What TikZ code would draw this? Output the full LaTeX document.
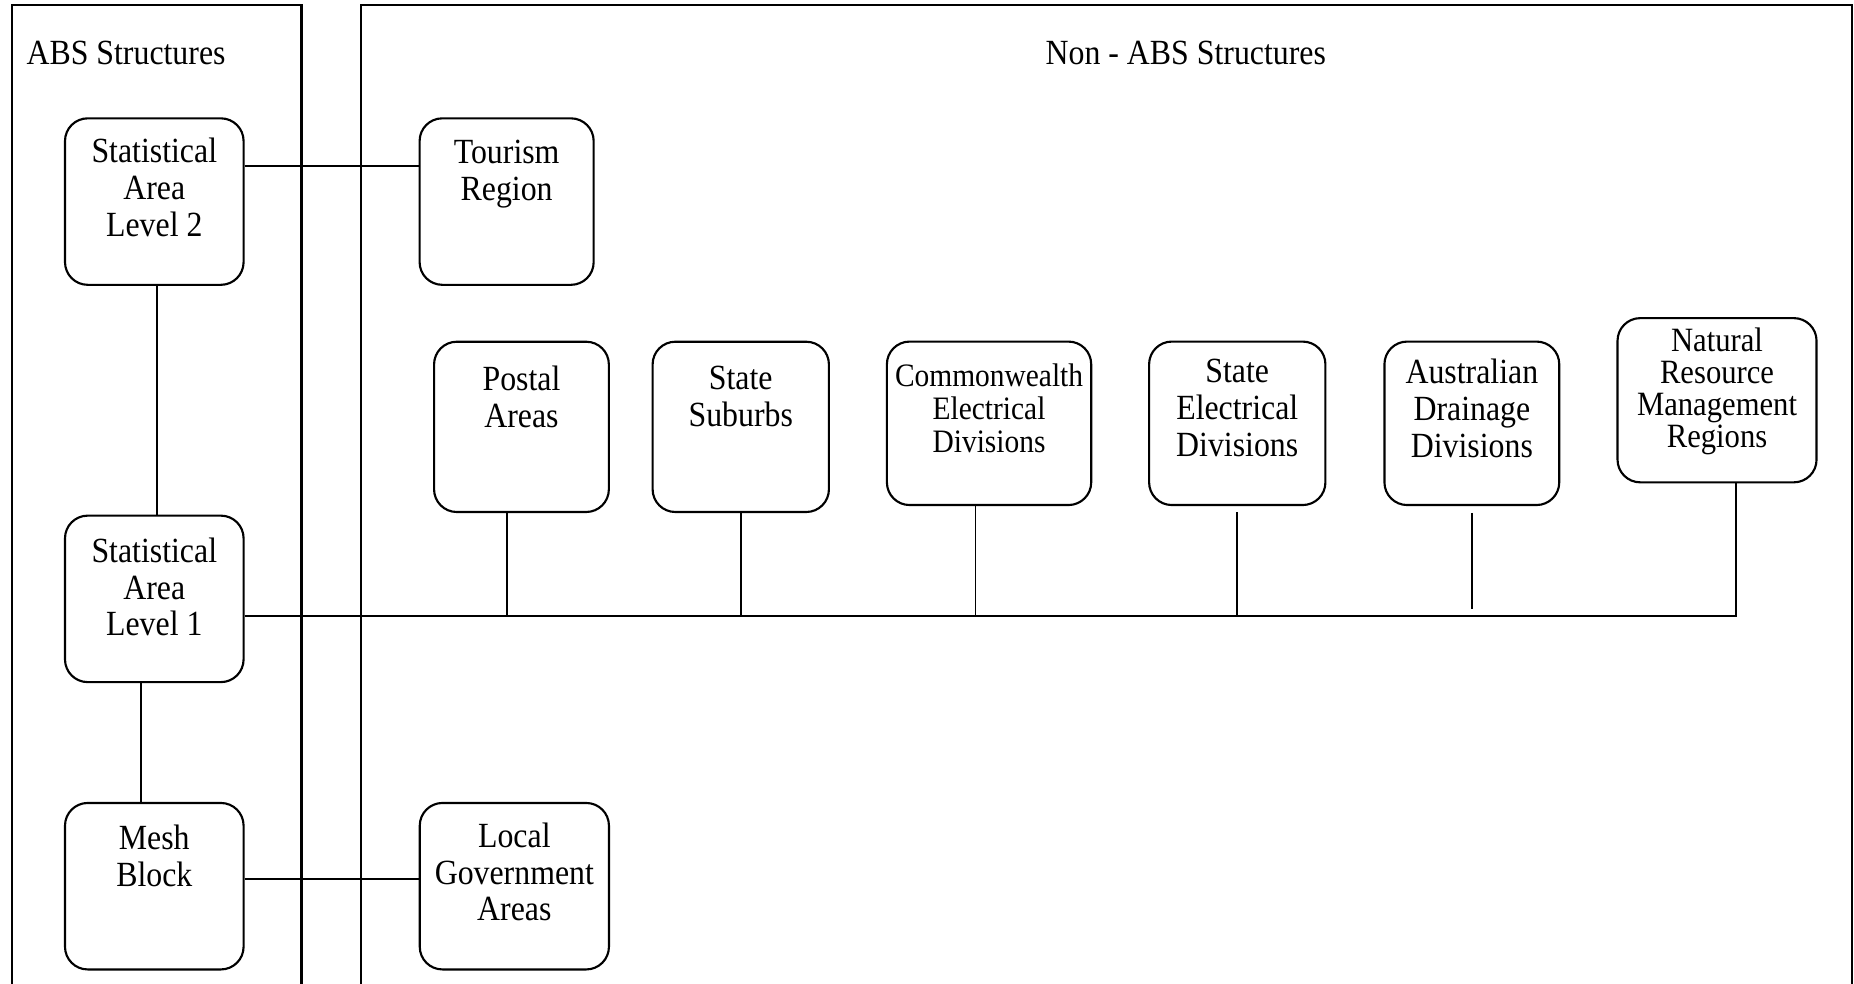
\documentclass[tikz,border=0pt]{standalone}
\usepackage{fontspec}
\setmainfont{Liberation Serif}[FakeStretch=0.9]
\usepackage{tikz}
\usetikzlibrary{positioning, calc}
\newcommand{\areafont}{\fontsize{13.3}{13.8}\selectfont}

\begin{document}
\begin{tikzpicture}[
        frame/.style={draw, line width=0.8pt},
        area/.style={rectangle, draw, rounded corners=0.3cm, line width=0.8pt, minimum width=2.36cm, minimum height=2.2cm, inner sep=0pt},
        txt/.style={anchor=north, align=center, inner sep=0pt, yshift=-0.3cm, font=\areafont},
        title/.style={inner sep=0pt, font=\areafont},
        link/.style={draw, line width=0.7pt}
    ]
        \useasboundingbox (0,0) rectangle (24.5,-13);

        % Frames
        \draw[frame] (0.156,-13) |- (3.984,-0.0625) -- (3.984,-13);
        \draw[frame] (4.766,-13) |- (24.47,-0.0625) -- (24.47,-13);
        \node[title, anchor=west] (ABS) at (0.344,-0.703) {ABS Structures};
        \node[title] (NONABS) at (15.67,-0.703) {Non - ABS Structures};

        % ABS structures
        \node[area, label={[txt, yshift=0.03cm]north:Statistical\\Area\\Level 2}] (SA2) at (2.039,-2.664) {};
        \node[area, label={[txt]north:Statistical\\Area\\Level 1}] (SA1) at (2.039,-7.914) {};
        \node[area, label={[txt]north:Mesh\\Block}] (MB) at (2.039,-11.711) {};

        % Non-ABS structures
        \node[area, minimum width=2.3cm, label={[txt]north:Tourism\\Region}] (TR) at (6.695,-2.664) {};
        \node[area, minimum width=2.5cm, label={[txt, yshift=0.03cm]north:Local\\Government\\Areas}] (LGA) at (6.797,-11.711) {};
        \node[area, minimum width=2.31cm, minimum height=2.25cm, label={[txt, yshift=-0.03cm]north:Postal\\Areas}] (POA) at (6.891,-5.641) {};
        \node[area, minimum width=2.33cm, minimum height=2.25cm, label={[txt, yshift=-0.03cm]north:State\\Suburbs}] (SSC) at (9.789,-5.641) {};
        \node[area, minimum width=2.7cm, minimum height=2.16cm, label={[txt, font=\fontsize{12.3}{12.4}\selectfont]north:Commonwealth\\Electrical\\Divisions}] (CED) at (13.07,-5.594) {};
        \node[area, minimum width=2.33cm, minimum height=2.16cm, label={[txt, yshift=0.06cm]north:State\\Electrical\\Divisions}] (SED) at (16.35,-5.594) {};
        \node[area, minimum width=2.31cm, minimum height=2.16cm, label={[txt, yshift=0.06cm]north:Australian\\Drainage\\Divisions}] (ADD) at (19.45,-5.594) {};
        \node[area, minimum width=2.63cm, minimum height=2.17cm, label={[txt, yshift=0.16cm, font=\fontsize{12.8}{12}\selectfont]north:Natural\\Resource\\Management\\Regions}] (NRM) at (22.69,-5.289) {};

        % Links
        \coordinate (BUS) at ([yshift=-0.23cm]SA1.east);
        \draw[link] ([yshift=0.47cm]SA2.east) -- ([yshift=0.47cm]TR.west);
        \draw[link] ([xshift=0.03cm]SA2.south) -- ([xshift=0.03cm]SA1.north);
        \draw[link] ([xshift=-0.18cm]SA1.south) -- ([xshift=-0.18cm]MB.north);
        \draw[link] ([yshift=0.09cm]MB.east) -- ([yshift=0.09cm]LGA.west);
        \draw[link] (BUS) -| ([xshift=0.25cm]NRM.south);
        \draw[link] ([xshift=-0.19cm]POA.south) -- ([xshift=-0.19cm]POA.south |- BUS);
        \draw[link] (SSC.south) -- (SSC.south |- BUS);
        \draw[link] ([xshift=-0.18cm]CED.south) -- ([xshift=-0.18cm]CED.south |- BUS);
        \draw[link] ([yshift=-0.08cm]SED.south) -- (SED.south |- BUS);
        \draw[link] ([yshift=-0.09cm]ADD.south) -- ([yshift=0.09cm]ADD.south |- BUS);
    \end{tikzpicture}
\end{document}
